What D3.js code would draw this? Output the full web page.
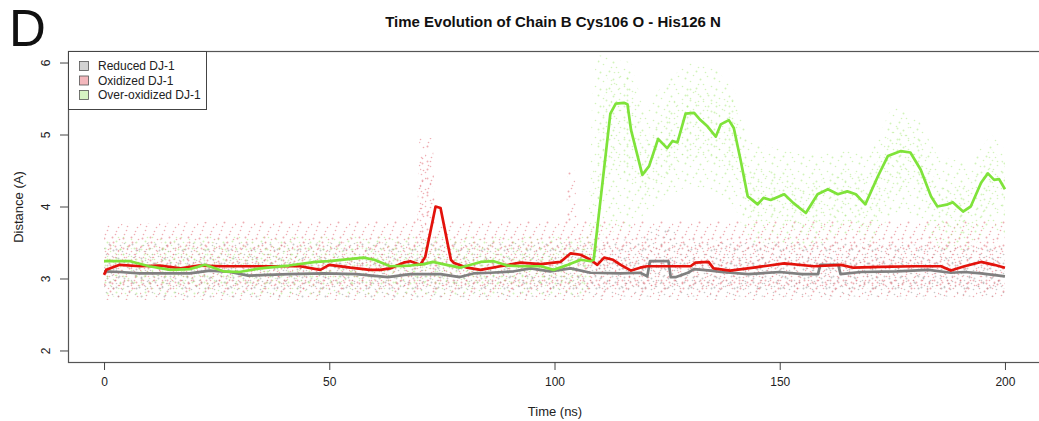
<!DOCTYPE html>
<html><head><meta charset="utf-8">
<script src="https://cdn.jsdelivr.net/npm/d3@7"></script>
<style>
body{margin:0;background:#fff;}
svg{display:block;font-family:"Liberation Sans",Arial,Helvetica,sans-serif;}
</style></head>
<body><svg id="c" width="1039" height="421"></svg>
<script>
// ---------- data ----------
const seriesNames = ["Reduced DJ-1", "Oxidized DJ-1", "Over-oxidized DJ-1"];
const xTicks = [0, 50, 100, 150, 200];
const yTicks = [2, 3, 4, 5, 6];

// smoothed running-average lines (time ns, distance A)
const reducedT = [0,3.5,8,19,23.5,28,32,41,48.7,56,63,68,74.7,79,82,85.8,91,94.7,99,103.6,108,114.7,119,120.6,121.2,125.3,125.8,127,129.6,131,134.7,137,143,150,155,158.5,159,163,163.5,168,176,183,188,191,194.7,200];
const reducedV = [3.10,3.09,3.07,3.07,3.11,3.09,3.04,3.06,3.07,3.06,3.02,3.06,3.06,3.02,3.07,3.08,3.10,3.14,3.10,3.14,3.08,3.07,3.08,3.03,3.24,3.24,3.02,3.02,3.08,3.13,3.11,3.09,3.06,3.09,3.06,3.06,3.19,3.19,3.06,3.09,3.10,3.12,3.08,3.09,3.07,3.03];

const oxidizedT = [0,0.5,3.5,8,12.4,17,21,26.5,32,37,43.5,48,50,54.7,59,61.3,63.5,66.5,68,70.2,71.3,73.6,74.7,77,77.6,80.6,83.6,88,92.4,97,101.3,103.6,105.8,108,109.5,111,113,114.7,117,119,120.6,125,130.2,131.3,134.2,135.3,139,144.2,151,157.6,163.6,166.4,172.4,179.8,185.8,188,191,194.7,197.6,200];
const oxidizedV = [3.05,3.12,3.19,3.17,3.18,3.14,3.18,3.17,3.17,3.17,3.17,3.12,3.19,3.15,3.12,3.12,3.14,3.22,3.24,3.19,3.30,4.00,3.98,3.26,3.22,3.15,3.12,3.17,3.22,3.20,3.23,3.35,3.33,3.26,3.19,3.29,3.26,3.19,3.11,3.15,3.17,3.17,3.17,3.22,3.23,3.14,3.11,3.15,3.21,3.17,3.19,3.15,3.16,3.17,3.17,3.11,3.17,3.23,3.19,3.15];

const overT = [0,3,5.8,10,14.7,19,22.4,26.5,30,34.7,41,47,50,57.6,60,63.5,68,71,73,76,79,83.6,86.5,89.5,92.4,97,99.8,103,105.8,108,108.7,112.4,113.6,115.4,116.2,117,119.5,121,123,125,126.2,127.3,129.1,131,132.4,134,135.8,136.9,138.7,139.8,141.3,142.9,145.1,146.4,148,151,153,155.8,158.4,160.7,162.9,165,166.9,169,171.8,174,176.9,179,181.3,183.6,185,187.3,188.4,190.7,192.4,194.7,196.2,197.6,198.7,200];
const overV = [3.24,3.24,3.24,3.17,3.12,3.13,3.19,3.10,3.09,3.14,3.18,3.23,3.24,3.29,3.26,3.17,3.18,3.20,3.23,3.19,3.15,3.23,3.24,3.18,3.17,3.17,3.12,3.19,3.26,3.24,3.26,5.29,5.43,5.44,5.42,5.06,4.44,4.56,4.94,4.81,4.91,4.89,5.29,5.30,5.20,5.11,4.97,5.14,5.20,5.09,4.65,4.14,4.03,4.12,4.09,4.17,4.05,3.91,4.17,4.24,4.17,4.21,4.17,4.03,4.42,4.70,4.77,4.75,4.51,4.14,4.00,4.03,4.06,3.93,4.00,4.33,4.46,4.37,4.38,4.24];

// full extent of the raw-frame point clouds (time, lower, upper)
const reducedCloudT  = [0,50,100,119,121,126,128,150,200];
const reducedCloudLo = [2.72,2.72,2.75,2.75,2.75,2.75,2.75,2.75,2.75];
const reducedCloudHi = [3.50,3.50,3.50,3.55,3.70,3.70,3.55,3.50,3.45];

const oxidizedCloudT  = [0,30,69.5,70,73,73.5,102.5,103,104.5,105,150,200];
const oxidizedCloudLo = [2.70,2.70,2.70,2.70,2.70,2.70,2.70,2.70,2.70,2.70,2.70,2.72];
const oxidizedCloudHi = [3.75,3.80,3.80,4.95,4.95,3.80,3.80,4.50,4.50,3.80,3.80,3.80];

const overCloudT  = [0,60,107.5,108.5,110,117,120,124,130,136,140,143,150,156,165,170,175,180,185,192,197,200];
const overCloudLo = [2.75,2.75,2.75,3.40,3.60,3.70,3.90,4.10,4.30,4.20,4.00,3.50,3.50,3.40,3.60,3.50,3.90,3.90,3.40,3.40,3.70,3.60];
const overCloudHi = [3.60,3.60,3.60,5.80,6.10,6.00,5.30,5.70,6.00,5.90,5.60,4.90,4.80,4.70,4.80,4.70,5.40,5.30,4.70,4.60,5.00,4.80];

// dense core of each point cloud (time, lower, upper)
const reducedCoreT  = [0,200];
const reducedCoreLo = [2.86,2.86];
const reducedCoreHi = [3.30,3.30];

const oxidizedCoreT  = [0,69.8,70.2,72.8,73.2,200];
const oxidizedCoreLo = [2.84,2.84,2.84,2.84,2.84,2.84];
const oxidizedCoreHi = [3.50,3.50,4.70,4.70,3.50,3.52];

const overCoreT  = [0,107.5,108.5,112,117,120,124,130,136,140,143,150,156,165,170,175,180,185,192,197,200];
const overCoreLo = [2.90,2.90,3.60,4.60,4.40,4.10,4.40,4.70,4.60,4.50,3.80,3.80,3.60,3.80,3.70,4.20,4.30,3.70,3.60,4.00,3.90];
const overCoreHi = [3.42,3.42,4.50,5.90,5.80,4.90,5.30,5.70,5.50,5.50,4.50,4.50,4.30,4.50,4.40,5.10,5.10,4.30,4.30,4.80,4.60];

// ---------- drawing ----------
const svg = d3.select("#c");
const x = d3.scaleLinear().domain([-8, 208]).range([68, 1041]);
const y = d3.scaleLinear().domain([1.84, 6.16]).range([362, 51]);

const lineCol  = ["#808080", "#e3120b", "#7fe33a"];
const dotCol   = ["#9a9a9a", "#e06a74", "#a6e878"];
const keyFill  = ["#d2d2d2", "#f3b7bc", "#d6f4c3"];

const defs = svg.append("defs");
defs.append("clipPath").attr("id","plotclip").append("rect")
  .attr("x",68).attr("y",51).attr("width",1041-68).attr("height",362-51);

// irregular dotted textures (style only) for the point clouds
const tileSize = [[23,19],[19,23],[29,17]];
const coreTile = [[17,13],[13,17],[21,11]];
const dotTiles = [
  [[1,2],[14,7],[9,15],[3,11],[20,9],[7,4],[17,16],[12,1],[5,17],[21,3]],
  [[2,5],[13,1],[5,20],[11,9],[0,14],[16,17],[8,12],[17,6],[3,1],[10,4],[14,21],[6,16]],
  [[4,4],[22,10],[1,12],[15,14],[26,2],[9,7],[19,5],[12,1],[24,15],[6,15],[17,10]]
];
const coreDots = [
  [[2,3],[11,8],[6,11],[14,1],[9,5]],
  [[3,2],[9,10],[1,13],[11,4],[6,7],[10,15]],
  [[5,2],[13,7],[18,1],[2,8],[10,4]]
];
function makePattern(id, size, pts, col, op, off){
  const p = defs.append("pattern").attr("id",id)
    .attr("patternUnits","userSpaceOnUse")
    .attr("width",size[0]).attr("height",size[1])
    .attr("x", off[0]).attr("y", off[1]);
  p.selectAll("circle").data(pts).join("circle")
    .attr("cx",d=>d[0]+0.5).attr("cy",d=>d[1]+0.5).attr("r",(d,k)=>k%3===0?1.0:0.8)
    .attr("fill",col).attr("fill-opacity",op);
}
dotTiles.forEach((pts,i)=>{
  makePattern("dots"+i, tileSize[i], pts, dotCol[i], i===2?0.5:0.55, [i*7, i*3]);
  makePattern("core"+i, coreTile[i], coreDots[i], dotCol[i], i===2?0.45:0.5, [i*5+3, i*4+2]);
});

const plot = svg.append("g").attr("clip-path","url(#plotclip)");

const clouds = [
  [reducedCloudT, reducedCloudLo, reducedCloudHi, reducedCoreT, reducedCoreLo, reducedCoreHi],
  [oxidizedCloudT, oxidizedCloudLo, oxidizedCloudHi, oxidizedCoreT, oxidizedCoreLo, oxidizedCoreHi],
  [overCloudT, overCloudLo, overCloudHi, overCoreT, overCoreLo, overCoreHi]
];
const area = d3.area().x(d=>x(d.t)).y0(d=>y(d.lo)).y1(d=>y(d.hi));
clouds.forEach((c,i)=>{
  const outer = c[0].map((t,k)=>({t, lo:c[1][k], hi:c[2][k]}));
  const core = c[3].map((t,k)=>({t, lo:c[4][k], hi:c[5][k]}));
  plot.append("path").datum(outer).attr("d",area).attr("fill","url(#dots"+i+")");
  plot.append("path").datum(core).attr("d",area).attr("fill","url(#core"+i+")");
});

const lines = [[reducedT,reducedV],[oxidizedT,oxidizedV],[overT,overV]];
lines.forEach((l,i)=>{
  const data = l[0].map((t,k)=>[t,l[1][k]]);
  plot.append("path").datum(data)
    .attr("d", d3.line().x(d=>x(d[0])).y(d=>y(d[1])))
    .attr("fill","none").attr("stroke",lineCol[i]).attr("stroke-width",2.7)
    .attr("stroke-linejoin","round");
});

// plot box
svg.append("rect").attr("x",68.5).attr("y",51.5).attr("width",1041-68).attr("height",362-51)
  .attr("fill","none").attr("stroke","#555").attr("stroke-width",1.2);

// axes
const yAxis = svg.append("g").attr("transform","translate(68,0)")
  .call(d3.axisLeft(y).tickValues(yTicks).tickSize(8).tickFormat(d3.format("d")));
yAxis.select(".domain").remove();
yAxis.selectAll(".tick line").attr("stroke","#444");
yAxis.selectAll(".tick text").attr("font-size",12).attr("fill","#222")
  .attr("transform","rotate(-90)").attr("x",0).attr("dy",0)
  .attr("y",-18).attr("text-anchor","middle");

const xAxis = svg.append("g").attr("transform","translate(0,362)")
  .call(d3.axisBottom(x).tickValues(xTicks).tickSize(8).tickFormat(d3.format("d")));
xAxis.select(".domain").remove();
xAxis.selectAll(".tick line").attr("stroke","#444");
xAxis.selectAll(".tick text").attr("font-size",12).attr("fill","#222").attr("y",15);

// titles
svg.append("text").attr("x",553).attr("y",27).attr("text-anchor","middle")
  .attr("font-size",15).attr("font-weight","bold").attr("fill","#111")
  .text("Time Evolution of Chain B Cys106 O - His126 N");
svg.append("text").attr("x",9).attr("y",46).attr("font-size",51).attr("fill","#111").text("D");
svg.append("text").attr("x",555).attr("y",416).attr("text-anchor","middle")
  .attr("font-size",13).attr("fill","#222").text("Time (ns)");
svg.append("text").attr("transform","translate(23,207) rotate(-90)").attr("text-anchor","middle")
  .attr("font-size",13).attr("fill","#222").text("Distance (A)");

// legend
const lg = svg.append("g");
lg.append("rect").attr("x",68.5).attr("y",51.5).attr("width",138).attr("height",58)
  .attr("fill","#fff").attr("stroke","#444").attr("stroke-width",1);
seriesNames.forEach((n,i)=>{
  const cy = 66 + i*14.5;
  lg.append("rect").attr("x",79.5).attr("y",cy-4.5).attr("width",9).attr("height",9)
    .attr("fill",keyFill[i]).attr("stroke","#555").attr("stroke-width",0.8);
  lg.append("text").attr("x",98).attr("y",cy+4).attr("font-size",12).attr("fill","#222").text(n);
});
</script></body></html>
